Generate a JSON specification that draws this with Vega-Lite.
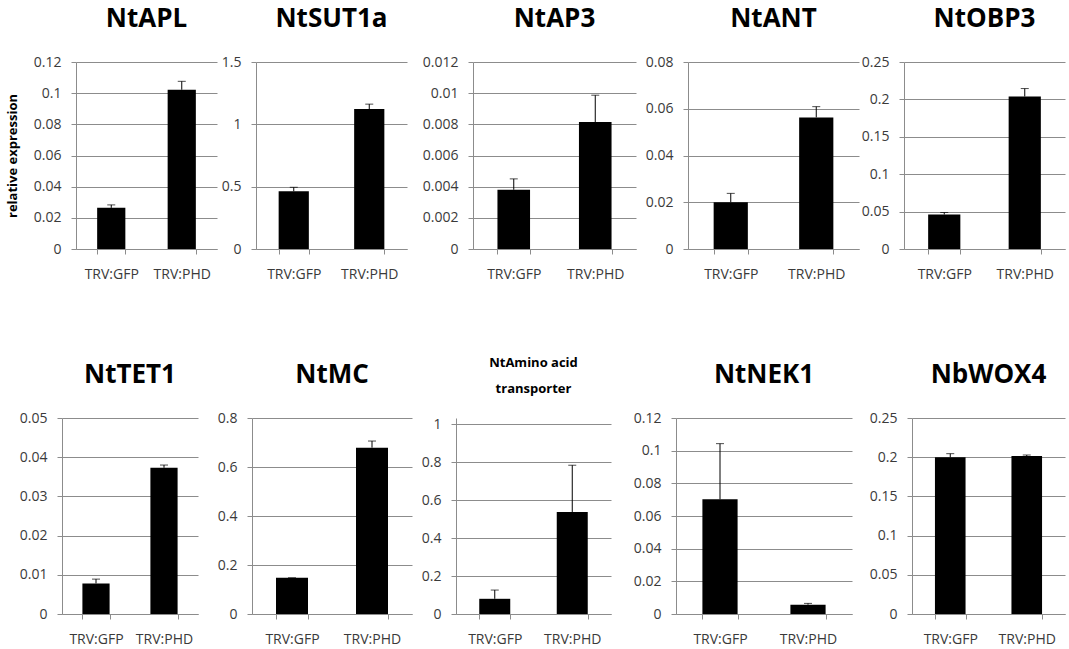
{
  "$schema": "https://vega.github.io/schema/vega-lite/v6.json",
  "background": "white",
  "padding": {"left": 6, "top": 6, "right": 2, "bottom": 2},
  "datasets": {
    "expr": [
      {"gene": "NtAPL", "group": "TRV:GFP", "value": 0.0264, "upper": 0.0283},
      {"gene": "NtAPL", "group": "TRV:PHD", "value": 0.1022, "upper": 0.1076},
      {"gene": "NtSUT1a", "group": "TRV:GFP", "value": 0.463, "upper": 0.495},
      {"gene": "NtSUT1a", "group": "TRV:PHD", "value": 1.122, "upper": 1.162},
      {"gene": "NtAP3", "group": "TRV:GFP", "value": 0.0038, "upper": 0.0045},
      {"gene": "NtAP3", "group": "TRV:PHD", "value": 0.00815, "upper": 0.00987},
      {"gene": "NtANT", "group": "TRV:GFP", "value": 0.0200, "upper": 0.0238},
      {"gene": "NtANT", "group": "TRV:PHD", "value": 0.0563, "upper": 0.0609},
      {"gene": "NtOBP3", "group": "TRV:GFP", "value": 0.0461, "upper": 0.0488},
      {"gene": "NtOBP3", "group": "TRV:PHD", "value": 0.2039, "upper": 0.2145},
      {"gene": "NtTET1", "group": "TRV:GFP", "value": 0.0078, "upper": 0.0089},
      {"gene": "NtTET1", "group": "TRV:PHD", "value": 0.0373, "upper": 0.0380},
      {"gene": "NtMC", "group": "TRV:GFP", "value": 0.148, "upper": 0.148},
      {"gene": "NtMC", "group": "TRV:PHD", "value": 0.679, "upper": 0.706},
      {"gene": "NtAmino acid transporter", "group": "TRV:GFP", "value": 0.080, "upper": 0.126},
      {"gene": "NtAmino acid transporter", "group": "TRV:PHD", "value": 0.537, "upper": 0.783},
      {"gene": "NtNEK1", "group": "TRV:GFP", "value": 0.0702, "upper": 0.1043},
      {"gene": "NtNEK1", "group": "TRV:PHD", "value": 0.0057, "upper": 0.0065},
      {"gene": "NbWOX4", "group": "TRV:GFP", "value": 0.1998, "upper": 0.2045},
      {"gene": "NbWOX4", "group": "TRV:PHD", "value": 0.2015, "upper": 0.2028}
    ]
  },
  "data": {"name": "expr"},
  "columns": 1,
  "spacing": 76,
  "concat": [
    {
      "bounds": "flush",
      "spacing": 10,
      "hconcat": [
        {"width": 4, "height": 10, "data": {"values": []}, "mark": {"type": "point", "opacity": 0}, "encoding": {}},
        {
          "bounds": "flush",
          "spacing": 39,
          "hconcat": [
            {
              "width": 141, "height": 187,
              "title": {"text": "NtAPL"},
              "transform": [{"filter": "datum.gene === 'NtAPL'"}],
              "encoding": {"x": {"field": "group", "type": "nominal", "sort": ["TRV:GFP", "TRV:PHD"], "scale": {"paddingInner": 0.6, "paddingOuter": 0.3}, "title": null}},
              "layer": [
                {"mark": {"type": "bar", "color": "black"}, "encoding": {"y": {"field": "value", "type": "quantitative", "scale": {"domain": [0, 0.12], "nice": false}, "axis": {"values": [0, 0.02, 0.04, 0.06, 0.08, 0.1, 0.12], "tickCount": 20, "format": ".4~g"}, "title": "relative expression"}}},
                {"mark": {"type": "rule", "color": "black"}, "encoding": {"y": {"field": "value", "type": "quantitative"}, "y2": {"field": "upper"}}},
                {"mark": {"type": "tick", "color": "black", "size": 8, "thickness": 1}, "encoding": {"y": {"field": "upper", "type": "quantitative"}}}
              ]
            },
            {
              "bounds": "flush",
              "spacing": 66,
              "hconcat": [
                {
                  "width": 151, "height": 187,
                  "title": {"text": "NtSUT1a"},
                  "transform": [{"filter": "datum.gene === 'NtSUT1a'"}],
                  "encoding": {"x": {"field": "group", "type": "nominal", "sort": ["TRV:GFP", "TRV:PHD"], "scale": {"paddingInner": 0.6, "paddingOuter": 0.3}, "title": null}},
                  "layer": [
                    {"mark": {"type": "bar", "color": "black"}, "encoding": {"y": {"field": "value", "type": "quantitative", "scale": {"domain": [0, 1.5], "nice": false}, "axis": {"values": [0, 0.5, 1, 1.5], "tickCount": 20, "format": ".4~g"}, "title": null}}},
                    {"mark": {"type": "rule", "color": "black"}, "encoding": {"y": {"field": "value", "type": "quantitative", "title": null}, "y2": {"field": "upper"}}},
                    {"mark": {"type": "tick", "color": "black", "size": 8, "thickness": 1}, "encoding": {"y": {"field": "upper", "type": "quantitative", "title": null}}}
                  ]
                },
                {
                  "bounds": "flush",
                  "spacing": 52,
                  "hconcat": [
                    {
                      "width": 163, "height": 187,
                      "title": {"text": "NtAP3"},
                      "transform": [{"filter": "datum.gene === 'NtAP3'"}],
                      "encoding": {"x": {"field": "group", "type": "nominal", "sort": ["TRV:GFP", "TRV:PHD"], "scale": {"paddingInner": 0.6, "paddingOuter": 0.3}, "title": null}},
                      "layer": [
                        {"mark": {"type": "bar", "color": "black"}, "encoding": {"y": {"field": "value", "type": "quantitative", "scale": {"domain": [0, 0.012], "nice": false}, "axis": {"values": [0, 0.002, 0.004, 0.006, 0.008, 0.01, 0.012], "tickCount": 20, "format": ".4~g"}, "title": null}}},
                        {"mark": {"type": "rule", "color": "black"}, "encoding": {"y": {"field": "value", "type": "quantitative", "title": null}, "y2": {"field": "upper"}}},
                        {"mark": {"type": "tick", "color": "black", "size": 8, "thickness": 1}, "encoding": {"y": {"field": "upper", "type": "quantitative", "title": null}}}
                      ]
                    },
                    {
                      "bounds": "flush",
                      "spacing": 45,
                      "hconcat": [
                        {
                          "width": 171, "height": 187,
                          "title": {"text": "NtANT"},
                          "transform": [{"filter": "datum.gene === 'NtANT'"}],
                          "encoding": {"x": {"field": "group", "type": "nominal", "sort": ["TRV:GFP", "TRV:PHD"], "scale": {"paddingInner": 0.6, "paddingOuter": 0.3}, "title": null}},
                          "layer": [
                            {"mark": {"type": "bar", "color": "black"}, "encoding": {"y": {"field": "value", "type": "quantitative", "scale": {"domain": [0, 0.08], "nice": false}, "axis": {"values": [0, 0.02, 0.04, 0.06, 0.08], "tickCount": 20, "format": ".4~g"}, "title": null}}},
                            {"mark": {"type": "rule", "color": "black"}, "encoding": {"y": {"field": "value", "type": "quantitative", "title": null}, "y2": {"field": "upper"}}},
                            {"mark": {"type": "tick", "color": "black", "size": 8, "thickness": 1}, "encoding": {"y": {"field": "upper", "type": "quantitative", "title": null}}}
                          ]
                        },
                        {
                          "width": 161, "height": 187,
                          "title": {"text": "NtOBP3"},
                          "transform": [{"filter": "datum.gene === 'NtOBP3'"}],
                          "encoding": {"x": {"field": "group", "type": "nominal", "sort": ["TRV:GFP", "TRV:PHD"], "scale": {"paddingInner": 0.6, "paddingOuter": 0.3}, "title": null}},
                          "layer": [
                            {"mark": {"type": "bar", "color": "black"}, "encoding": {"y": {"field": "value", "type": "quantitative", "scale": {"domain": [0, 0.25], "nice": false}, "axis": {"values": [0, 0.05, 0.1, 0.15, 0.2, 0.25], "tickCount": 20, "format": ".4~g"}, "title": null}}},
                            {"mark": {"type": "rule", "color": "black"}, "encoding": {"y": {"field": "value", "type": "quantitative", "title": null}, "y2": {"field": "upper"}}},
                            {"mark": {"type": "tick", "color": "black", "size": 8, "thickness": 1}, "encoding": {"y": {"field": "upper", "type": "quantitative", "title": null}}}
                          ]
                        }
                      ]
                    }
                  ]
                }
              ]
            }
          ]
        }
      ]
    },
    {
      "bounds": "flush",
      "spacing": 54,
      "hconcat": [
        {
          "width": 136, "height": 196,
          "title": {"text": "NtTET1"},
          "transform": [{"filter": "datum.gene === 'NtTET1'"}],
          "encoding": {"x": {"field": "group", "type": "nominal", "sort": ["TRV:GFP", "TRV:PHD"], "scale": {"paddingInner": 0.6, "paddingOuter": 0.3}, "title": null}},
          "layer": [
            {"mark": {"type": "bar", "color": "black"}, "encoding": {"y": {"field": "value", "type": "quantitative", "scale": {"domain": [0, 0.05], "nice": false}, "axis": {"values": [0, 0.01, 0.02, 0.03, 0.04, 0.05], "tickCount": 20, "format": ".4~g"}, "title": null}}},
            {"mark": {"type": "rule", "color": "black"}, "encoding": {"y": {"field": "value", "type": "quantitative", "title": null}, "y2": {"field": "upper"}}},
            {"mark": {"type": "tick", "color": "black", "size": 8, "thickness": 1}, "encoding": {"y": {"field": "upper", "type": "quantitative", "title": null}}}
          ]
        },
        {
          "bounds": "flush",
          "spacing": 44,
          "hconcat": [
            {
              "width": 160, "height": 196,
              "title": {"text": "NtMC"},
              "transform": [{"filter": "datum.gene === 'NtMC'"}],
              "encoding": {"x": {"field": "group", "type": "nominal", "sort": ["TRV:GFP", "TRV:PHD"], "scale": {"paddingInner": 0.6, "paddingOuter": 0.3}, "title": null}},
              "layer": [
                {"mark": {"type": "bar", "color": "black"}, "encoding": {"y": {"field": "value", "type": "quantitative", "scale": {"domain": [0, 0.8], "nice": false}, "axis": {"values": [0, 0.2, 0.4, 0.6, 0.8], "tickCount": 20, "format": ".4~g"}, "title": null}}},
                {"mark": {"type": "rule", "color": "black"}, "encoding": {"y": {"field": "value", "type": "quantitative", "title": null}, "y2": {"field": "upper"}}},
                {"mark": {"type": "tick", "color": "black", "size": 8, "thickness": 1}, "encoding": {"y": {"field": "upper", "type": "quantitative", "title": null}}}
              ]
            },
            {
              "bounds": "flush",
              "spacing": 65,
              "hconcat": [
                {
                  "width": 155, "height": 196,
                  "title": {"text": ["NtAmino acid", "transporter"], "fontSize": 13, "lineHeight": 26, "offset": 21},
                  "transform": [{"filter": "datum.gene === 'NtAmino acid transporter'"}],
                  "encoding": {"x": {"field": "group", "type": "nominal", "sort": ["TRV:GFP", "TRV:PHD"], "scale": {"paddingInner": 0.6, "paddingOuter": 0.3}, "title": null}},
                  "layer": [
                    {"mark": {"type": "bar", "color": "black"}, "encoding": {"y": {"field": "value", "type": "quantitative", "scale": {"domain": [0, 1.0316], "nice": false}, "axis": {"values": [0, 0.2, 0.4, 0.6, 0.8, 1], "tickCount": 20, "format": ".4~g"}, "title": null}}},
                    {"mark": {"type": "rule", "color": "black"}, "encoding": {"y": {"field": "value", "type": "quantitative", "title": null}, "y2": {"field": "upper"}}},
                    {"mark": {"type": "tick", "color": "black", "size": 8, "thickness": 1}, "encoding": {"y": {"field": "upper", "type": "quantitative", "title": null}}}
                  ]
                },
                {
                  "bounds": "flush",
                  "spacing": 60,
                  "hconcat": [
                    {
                      "width": 176, "height": 196,
                      "title": {"text": "NtNEK1"},
                      "transform": [{"filter": "datum.gene === 'NtNEK1'"}],
                      "encoding": {"x": {"field": "group", "type": "nominal", "sort": ["TRV:GFP", "TRV:PHD"], "scale": {"paddingInner": 0.6, "paddingOuter": 0.3}, "title": null}},
                      "layer": [
                        {"mark": {"type": "bar", "color": "black"}, "encoding": {"y": {"field": "value", "type": "quantitative", "scale": {"domain": [0, 0.12], "nice": false}, "axis": {"values": [0, 0.02, 0.04, 0.06, 0.08, 0.1, 0.12], "tickCount": 20, "format": ".4~g"}, "title": null}}},
                        {"mark": {"type": "rule", "color": "black"}, "encoding": {"y": {"field": "value", "type": "quantitative", "title": null}, "y2": {"field": "upper"}}},
                        {"mark": {"type": "tick", "color": "black", "size": 8, "thickness": 1}, "encoding": {"y": {"field": "upper", "type": "quantitative", "title": null}}}
                      ]
                    },
                    {
                      "width": 153, "height": 196,
                      "title": {"text": "NbWOX4"},
                      "transform": [{"filter": "datum.gene === 'NbWOX4'"}],
                      "encoding": {"x": {"field": "group", "type": "nominal", "sort": ["TRV:GFP", "TRV:PHD"], "scale": {"paddingInner": 0.6, "paddingOuter": 0.3}, "title": null}},
                      "layer": [
                        {"mark": {"type": "bar", "color": "black"}, "encoding": {"y": {"field": "value", "type": "quantitative", "scale": {"domain": [0, 0.25], "nice": false}, "axis": {"values": [0, 0.05, 0.1, 0.15, 0.2, 0.25], "tickCount": 20, "format": ".4~g"}, "title": null}}},
                        {"mark": {"type": "rule", "color": "black"}, "encoding": {"y": {"field": "value", "type": "quantitative", "title": null}, "y2": {"field": "upper"}}},
                        {"mark": {"type": "tick", "color": "black", "size": 8, "thickness": 1}, "encoding": {"y": {"field": "upper", "type": "quantitative", "title": null}}}
                      ]
                    }
                  ]
                }
              ]
            }
          ]
        }
      ]
    }
  ],
  "config": {
    "view": {"stroke": null},
    "font": "Open Sans",
    "axis": {"domainColor": "#8c8c8c", "tickColor": "#8c8c8c", "gridColor": "#8c8c8c", "labelColor": "#3a3a3a", "labelFont": "Open Sans", "labelFontSize": 14, "labelOverlap": false, "tickSize": 5, "titleFont": "Open Sans", "titleFontSize": 13, "titleFontWeight": "bold", "titleColor": "black"},
    "axisX": {"grid": false, "labelAngle": 0, "tickBand": "extent", "labelPadding": 13},
    "axisY": {"grid": true, "labelPadding": 10, "titlePadding": 14},
    "title": {"font": "Open Sans", "fontSize": 26, "fontWeight": "bold", "color": "black", "offset": 23, "anchor": "middle"}
  }
}
